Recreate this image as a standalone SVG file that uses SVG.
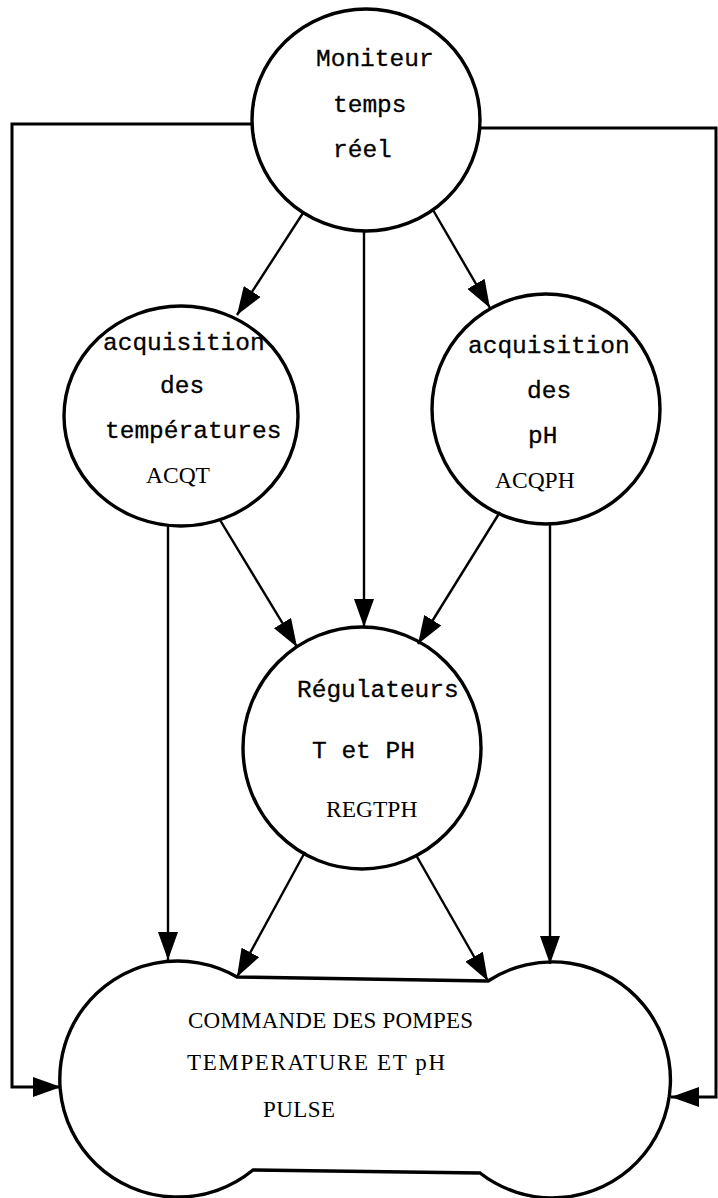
<svg xmlns="http://www.w3.org/2000/svg" width="718" height="1198" viewBox="0 0 718 1198">
<style>
.node{fill:#fff;stroke:#000;stroke-width:3.4}
.conn{fill:none;stroke:#000;stroke-width:2.4}
.loop{fill:none;stroke:#000;stroke-width:3}
.mono{font-family:"Liberation Mono",monospace;font-size:24.5px;fill:#000;stroke:#000;stroke-width:0.3}
.serif{font-family:"Liberation Serif",serif;font-size:23.5px;fill:#000}
.big{font-family:"Liberation Serif",serif;font-size:23px;fill:#000}
</style>
<defs>
<marker id="ah" viewBox="0 0 28 20" refX="28" refY="10" markerWidth="28" markerHeight="20" markerUnits="userSpaceOnUse" orient="auto">
<path d="M0,0 L28,10 L0,20 Z" fill="#000"/>
</marker>
</defs>
<rect x="0" y="0" width="718" height="1198" fill="#fff"/>

<g id="moniteur">
<ellipse class="node" cx="366" cy="120" rx="114" ry="111"/>
<text class="mono" x="316" y="66">Moniteur</text>
<text class="mono" x="333" y="112">temps</text>
<text class="mono" x="333" y="157">réel</text>
</g>

<g id="acqt">
<ellipse class="node" cx="181" cy="416" rx="117" ry="110"/>
<text class="mono" x="103" y="350">acquisition</text>
<text class="mono" x="160" y="393">des</text>
<text class="mono" x="105" y="438">températures</text>
<text class="serif" x="146" y="483">ACQT</text>
</g>

<g id="acqph">
<ellipse class="node" cx="546" cy="409" rx="114" ry="115"/>
<text class="mono" x="468" y="353">acquisition</text>
<text class="mono" x="527" y="398">des</text>
<text class="mono" x="528" y="443">pH</text>
<text class="serif" x="495" y="488">ACQPH</text>
</g>

<g id="regtph">
<ellipse class="node" cx="362" cy="748" rx="119" ry="121"/>
<text class="mono" x="297" y="697">Régulateurs</text>
<text class="mono" x="312" y="758">T et PH</text>
<text class="serif" x="326" y="817">REGTPH</text>
</g>

<g id="pulse">
<path class="node" d="M237,977 L488,981 A118,118 0 1 1 480,1173 L253,1170 A118,118 0 1 1 237,977 Z"/>
<text class="big" x="188" y="1028" textLength="285" lengthAdjust="spacing">COMMANDE DES POMPES</text>
<text class="big" x="187" y="1070" textLength="258" lengthAdjust="spacing">TEMPERATURE ET pH</text>
<text class="big" x="263" y="1117" textLength="72" lengthAdjust="spacing">PULSE</text>
</g>

<g id="connectors">
<line class="conn" x1="303" y1="213" x2="237" y2="315" marker-end="url(#ah)"/>
<line class="conn" x1="364" y1="231" x2="364" y2="627" marker-end="url(#ah)"/>
<line class="conn" x1="433" y1="210" x2="490" y2="308" marker-end="url(#ah)"/>
<line class="conn" x1="220" y1="520" x2="297" y2="647" marker-end="url(#ah)"/>
<line class="conn" x1="168" y1="525" x2="168" y2="960" marker-end="url(#ah)"/>
<line class="conn" x1="500" y1="512" x2="418" y2="644" marker-end="url(#ah)"/>
<line class="conn" x1="550" y1="524" x2="550" y2="964" marker-end="url(#ah)"/>
<line class="conn" x1="305" y1="852" x2="237" y2="977" marker-end="url(#ah)"/>
<line class="conn" x1="416" y1="855" x2="488" y2="981" marker-end="url(#ah)"/>
<path class="loop" d="M252,124 H12 V1087 H61" marker-end="url(#ah)"/>
<path class="loop" d="M480,128 H716 V1097 H671" marker-end="url(#ah)"/>
</g>
</svg>
